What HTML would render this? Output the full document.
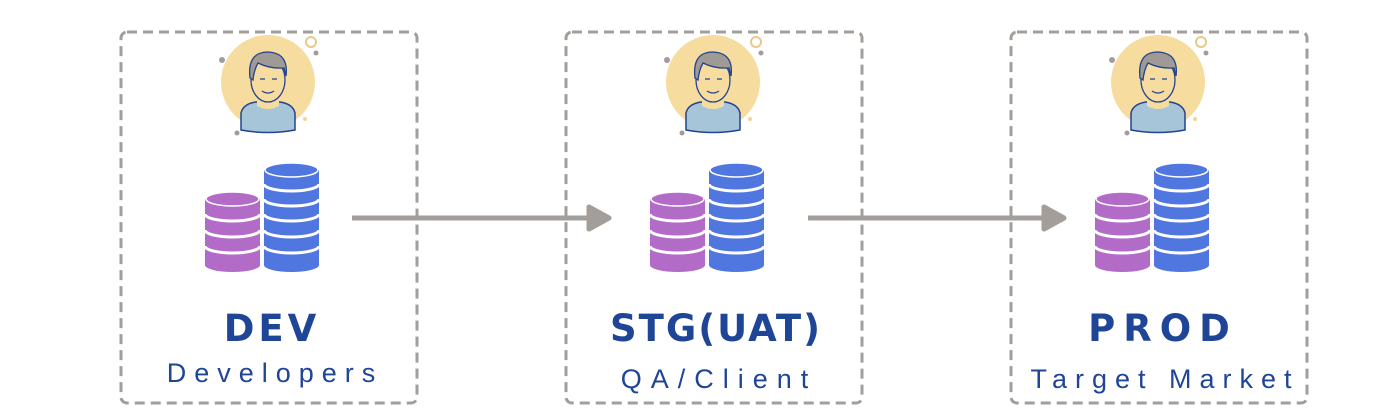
<!DOCTYPE html>
<html><head><meta charset="utf-8"><style>
html,body{margin:0;padding:0;background:#fff;width:1400px;height:420px;overflow:hidden}
svg{display:block}
.t1{font-family:"DejaVu Sans","Liberation Sans",sans-serif;font-weight:bold;fill:#1f4596;font-size:37px;text-anchor:middle}
.t2{font-family:"Liberation Sans","DejaVu Sans",sans-serif;fill:#1f4596;font-size:27px;text-anchor:middle}
</style></head><body>
<svg width="1400" height="420" viewBox="0 0 1400 420" xmlns="http://www.w3.org/2000/svg">
<defs>
<g id="panel">
  <rect x="121" y="32" width="296" height="371" rx="6" fill="none" stroke="#a39e9a" stroke-width="3" stroke-dasharray="10,6"/>
  <circle cx="268" cy="82" r="47" fill="#f7dca0"/>
  <circle cx="222" cy="60" r="3" fill="#a39a9e"/>
  <circle cx="316" cy="53" r="2.5" fill="#a39a9e"/>
  <circle cx="311" cy="42" r="5" fill="none" stroke="#e8c98a" stroke-width="2"/>
  <circle cx="237" cy="133" r="2.5" fill="#a39a9e"/>
  <circle cx="305" cy="119" r="2" fill="#f0d590"/>
  <path d="M241 130 L241 113 Q243 104 256 102 L280 102 Q293 104 295 113 L295 130 Q268 135 241 130Z" fill="#a7c5d8" stroke="#22438e" stroke-width="1.5"/>
  <path d="M257 98 L257 106 Q268 112 279 106 L279 98Z" fill="#f7dca0"/>
  <ellipse cx="268" cy="80" rx="17" ry="22" fill="#f7dca0" stroke="#22438e" stroke-width="1.3"/>
  <path d="M250 78 Q247 52 268 52 Q289 53 286 76 L284 68 Q270 69 258 63 Q254 70 253 80Z" fill="#9f9a96" stroke="#22438e" stroke-width="1.3"/>
  <path d="M260 79 h5 M272 79 h5 M262 91 Q268 95 274 91" stroke="#22438e" stroke-width="1.3" fill="none"/>
  <rect x="205" y="199" width="55" height="66" fill="#b26cc8"/>
  <ellipse cx="232.5" cy="265" rx="27.5" ry="7" fill="#b26cc8"/>
  <ellipse cx="232.5" cy="199" rx="26.5" ry="7" fill="#b26cc8" stroke="#fff" stroke-width="1.5"/>
  <path d="M205 214 A27.5 7 0 0 0 260 214 M205 230 A27.5 7 0 0 0 260 230 M205 246 A27.5 7 0 0 0 260 246" stroke="#fff" stroke-width="3" fill="none"/>
  <rect x="264" y="170" width="55" height="95" fill="#5077e0"/>
  <ellipse cx="291.5" cy="265" rx="27.5" ry="7" fill="#5077e0"/>
  <ellipse cx="291.5" cy="170" rx="26.5" ry="7" fill="#5077e0" stroke="#fff" stroke-width="1.5"/>
  <path d="M264 184 A27.5 7 0 0 0 319 184 M264 199 A27.5 7 0 0 0 319 199 M264 214 A27.5 7 0 0 0 319 214 M264 230 A27.5 7 0 0 0 319 230 M264 246 A27.5 7 0 0 0 319 246" stroke="#fff" stroke-width="3" fill="none"/>
</g>
</defs>
<use href="#panel"/>
<use href="#panel" transform="translate(445,0)"/>
<use href="#panel" transform="translate(890,0)"/>
<line x1="352" y1="218" x2="592" y2="218" stroke="#a39e9a" stroke-width="5"/>
<path d="M589 207 L609 218 L589 229Z" fill="#a39e9a" stroke="#a39e9a" stroke-width="5" stroke-linejoin="round"/>
<line x1="808" y1="218" x2="1047" y2="218" stroke="#a39e9a" stroke-width="5"/>
<path d="M1044 207 L1064 218 L1044 229Z" fill="#a39e9a" stroke="#a39e9a" stroke-width="5" stroke-linejoin="round"/>
<text class="t1" x="272" y="341" letter-spacing="4">DEV</text>
<text class="t2" x="275" y="382" letter-spacing="8">Developers</text>
<text class="t1" x="716" y="341" letter-spacing="2">STG(UAT)</text>
<text class="t2" x="719" y="388" letter-spacing="9">QA/Client</text>
<text class="t1" x="1163" y="341" letter-spacing="8">PROD</text>
<text class="t2" x="1165" y="388" letter-spacing="8">Target Market</text>
</svg>
</body></html>
